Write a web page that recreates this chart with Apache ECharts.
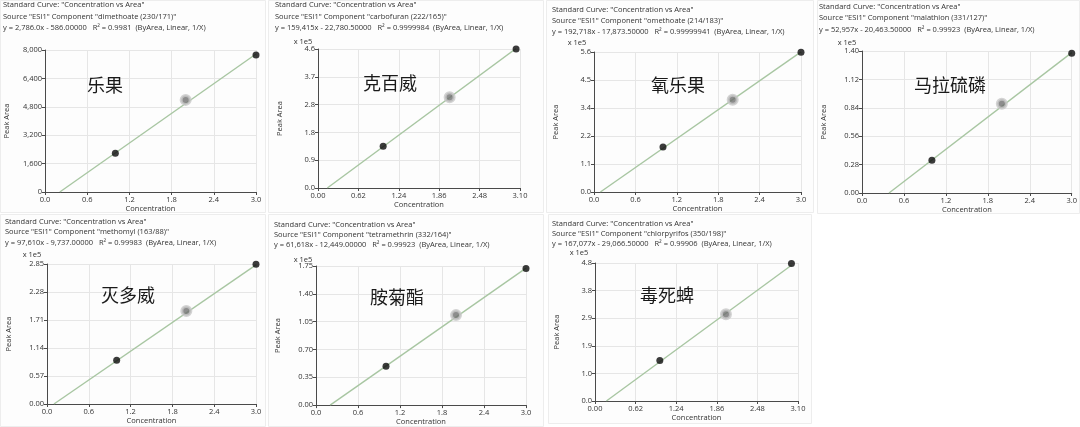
<!DOCTYPE html>
<html>
<head>
<meta charset="utf-8">
<script src="https://cdn.jsdelivr.net/npm/echarts@6/dist/echarts.min.js"></script>
<style>
  html, body { margin: 0; padding: 0; background: #ffffff; }
  #chart { width: 1080px; height: 427px; }
</style>
</head>
<body>
<div id="chart"></div>
<script>
// Pesticide calibration curves: peak area vs concentration, one panel per compound.
const cnNames = ['乐果', '克百威', '氧乐果', '马拉硫磷', '灭多威', '胺菊酯', '毒死蜱'];
const compounds = ['dimethoate (230/171)', 'carbofuran (222/165)', 'omethoate (214/183)',
  'malathion (331/127)', 'methomyl (163/88)', 'tetramethrin (332/164)', 'chlorpyrifos (350/198)'];
const equations = [
  'y = 2,786.0x - 586.00000   R² = 0.9981  (ByArea, Linear, 1/X)',
  'y = 159,415x - 22,780.50000   R² = 0.9999984  (ByArea, Linear, 1/X)',
  'y = 192,718x - 17,873.50000   R² = 0.99999941  (ByArea, Linear, 1/X)',
  'y = 52,957x - 20,463.50000   R² = 0.99923  (ByArea, Linear, 1/X)',
  'y = 97,610x - 9,737.00000   R² = 0.99983  (ByArea, Linear, 1/X)',
  'y = 61,618x - 12,449.00000   R² = 0.99923  (ByArea, Linear, 1/X)',
  'y = 167,077x - 29,066.50000   R² = 0.99906  (ByArea, Linear, 1/X)'
];
// fitted slope and intercept (raw peak area units)
const slopes = [2786.0, 159415, 192718, 52957, 97610, 61618, 167077];
const intercepts = [-586.0, -22780.5, -17873.5, -20463.5, -9737.0, -12449.0, -29066.5];
// displayed y unit (1 or x 1e5)
const yScale = [1, 1e5, 1e5, 1e5, 1e5, 1e5, 1e5];

// calibration points: concentration and peak area (in displayed units)
const concPts = [
  [1.0, 2.0, 3.0],
  [1.0, 2.02, 3.04],
  [1.0, 2.01, 3.0],
  [1.0, 2.0, 3.0],
  [1.0, 2.0, 3.0],
  [1.0, 2.0, 3.0],
  [0.99, 2.0, 3.0]
];
const areaPts = [
  [2190, 5190, 7720],
  [1.38, 3.00, 4.60],
  [1.80, 3.69, 5.59],
  [0.323, 0.879, 1.377],
  [0.889, 1.893, 2.843],
  [0.489, 1.132, 1.717],
  [1.41, 3.02, 4.78]
];

// axis ranges and tick steps
const xMax = [3.0, 3.10, 3.0, 3.0, 3.0, 3.0, 3.10];
const xStep = [0.6, 0.62, 0.6, 0.6, 0.6, 0.6, 0.62];
const xDigits = [1, 2, 1, 1, 1, 1, 2];
const yMax = [8000, 4.6, 5.6, 1.40, 2.85, 1.75, 4.8];
const yStep = [1600, 0.92, 1.12, 0.28, 0.57, 0.35, 0.96];
const yDigits = [-1, 1, 1, 2, 2, 2, 1];

// layout: plot rectangles [left, top, width, height]
const plotRects = [
  [45, 50, 211, 142],
  [318, 49, 202, 139],
  [594, 52, 207, 140],
  [862, 51, 211, 142],
  [47, 264, 209, 140],
  [316, 266, 210, 141],
  [595, 263, 203, 138]
];
const panelRects = [
  [0, 0, 266, 213], [268, 0, 276, 213], [546, 0, 268, 213], [817, 0, 263, 214],
  [0, 214, 266, 213], [268, 214, 276, 213], [548, 214, 264, 210]
];
const headerPos = [[3, 5, 11.5], [275, 5, 11.5], [552, 10, 11], [819, 7, 11.2],
  [5, 222, 10.2], [274, 225, 9.7], [552, 224, 10]];
const cnPos = [[105, 85], [390, 83], [678, 85], [950, 85], [128, 295], [397, 297], [667, 295]];
const expPos = [null, [303, 42], [577, 43], [847, 43], [32, 255], [303, 260], [579, 253]];

const FONT = '"Open Sans", "Noto Sans", sans-serif';
const txtColor = '#333333';

const grids = [], xAxes = [], yAxes = [], series = [], graphics = [];

panelRects.forEach(r => {
  graphics.push({ type: 'rect', silent: true, z: -10,
    shape: { x: r[0] + 0.5, y: r[1] + 0.5, width: r[2] - 1, height: r[3] - 1 },
    style: { fill: '#fdfdfd', stroke: '#ededed', lineWidth: 1 } });
});

for (let i = 0; i < 7; i++) {
  const r = plotRects[i];
  grids.push({ left: r[0], top: r[1], width: r[2], height: r[3], containLabel: false });
  const xd = xDigits[i], yd = yDigits[i];
  xAxes.push({
    gridIndex: i, type: 'value', min: 0, max: xMax[i], interval: xStep[i],
    name: 'Concentration', nameLocation: 'middle', nameGap: 12,
    nameTextStyle: { fontSize: 7.5, color: txtColor, fontFamily: FONT },
    axisLine: { show: true, lineStyle: { color: '#4a4a4a', width: 1 } },
    axisTick: { show: true, length: 3, lineStyle: { color: '#4a4a4a' } },
    axisLabel: { fontSize: 7.5, color: txtColor, fontFamily: FONT, margin: 4,
      showMinLabel: true, showMaxLabel: true,
      formatter: v => v.toFixed(xd) },
    splitLine: { show: true, lineStyle: { color: '#e6e6e6', width: 1 } }
  });
  yAxes.push({
    gridIndex: i, type: 'value', min: 0, max: yMax[i], interval: yStep[i],
    name: 'Peak Area', nameLocation: 'middle', nameGap: 34, nameRotate: 90,
    nameTextStyle: { fontSize: 7.5, color: txtColor, fontFamily: FONT },
    axisLine: { show: true, lineStyle: { color: '#4a4a4a', width: 1 } },
    axisTick: { show: true, length: 3, lineStyle: { color: '#4a4a4a' } },
    axisLabel: { fontSize: 7.5, color: txtColor, fontFamily: FONT, margin: 3,
      showMinLabel: true, showMaxLabel: true,
      formatter: v => yd < 0 ? Math.round(v).toLocaleString('en-US') : v.toFixed(yd) },
    splitLine: { show: true, lineStyle: { color: '#e6e6e6', width: 1 } }
  });

  // fitted line from the x-intercept to the highest standard
  const a = slopes[i], b = intercepts[i], s = yScale[i];
  const x0 = -b / a, x1 = Math.max(...concPts[i]);
  series.push({
    type: 'line', xAxisIndex: i, yAxisIndex: i, symbol: 'none', silent: true,
    data: [[x0, (a * x0 + b) / s], [x1, (a * x1 + b) / s]],
    lineStyle: { color: '#a8c6a2', width: 1.4 }, z: 2
  });

  series.push({
    type: 'scatter', xAxisIndex: i, yAxisIndex: i, silent: true, z: 3,
    data: concPts[i].map((c, k) => k === 1
      ? { value: [c, areaPts[i][k]], symbolSize: 9,
          itemStyle: { color: '#707070', borderColor: '#c8c8c8', borderWidth: 3 } }
      : { value: [c, areaPts[i][k]], symbolSize: 7,
          itemStyle: { color: '#0a0a0a' } })
  });

  const h = headerPos[i];
  const lines = ['Standard Curve: "Concentration vs Area"',
    'Source "ESI1" Component "' + compounds[i] + '"', equations[i]];
  lines.forEach((t, k) => {
    graphics.push({ type: 'text', silent: true, x: h[0], y: h[1] + k * h[2],
      style: { text: t, font: '7.5px ' + FONT, fill: txtColor,
        textAlign: 'left', textVerticalAlign: 'middle' } });
  });

  graphics.push({ type: 'text', silent: true, x: cnPos[i][0], y: cnPos[i][1], z: 5,
    style: { text: cnNames[i], font: '18px "Noto Sans CJK SC", sans-serif', fill: '#1a1a1a',
      textAlign: 'center', textVerticalAlign: 'middle' } });

  if (expPos[i]) {
    graphics.push({ type: 'text', silent: true, x: expPos[i][0], y: expPos[i][1],
      style: { text: 'x 1e5', font: '7.5px ' + FONT, fill: txtColor,
        textAlign: 'center', textVerticalAlign: 'middle' } });
  }
}

const chart = echarts.init(document.getElementById('chart'), null, { renderer: 'canvas' });
chart.setOption({
  animation: false,
  backgroundColor: '#ffffff',
  grid: grids, xAxis: xAxes, yAxis: yAxes, series: series, graphic: graphics
});
</script>
</body>
</html>
